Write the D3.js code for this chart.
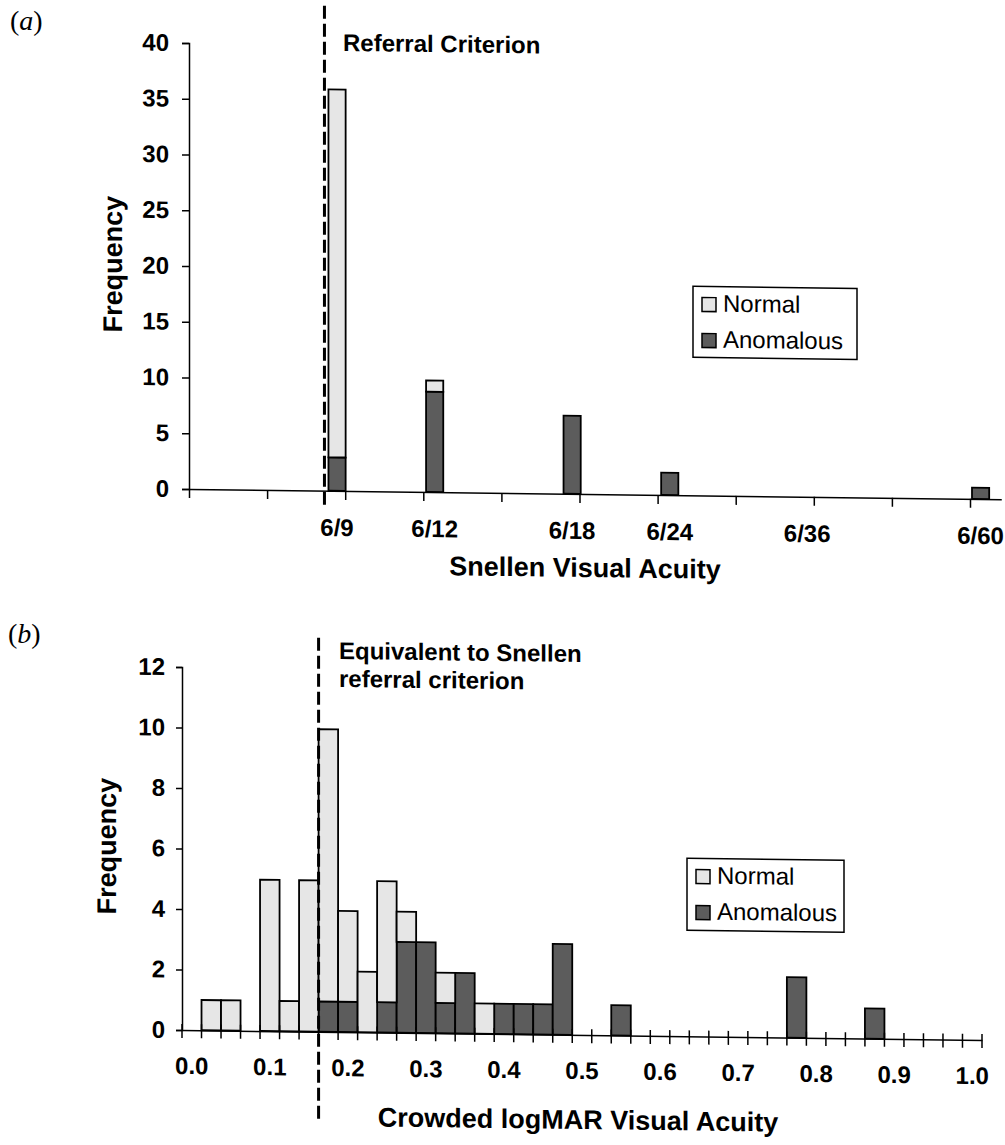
<!DOCTYPE html>
<html>
<head>
<meta charset="utf-8">
<script src="https://cdn.jsdelivr.net/npm/d3@7"></script>
<style>
  body { margin: 0; background: #fff; }
  svg { display: block; font-family: "Liberation Sans", Arial, sans-serif; }
</style>
</head>
<body>
<svg id="chart" width="1005" height="1145"></svg>
<script>
// panel (a): Snellen acuity
const snellenLabels = ['6/9', '6/12', '6/18', '6/24', '6/36', '6/60'];
const snellenLogMAR = [0.176, 0.301, 0.477, 0.602, 0.778, 1.0];
const snellenNormal = [33, 1, 0, 0, 0, 0];
const snellenAnomalous = [3, 9, 7, 2, 0, 1];
const snellenYTicks = [0, 5, 10, 15, 20, 25, 30, 35, 40];

// panel (b): crowded logMAR acuity, bins of 0.025
const logmarBins = [0.000, 0.025, 0.050, 0.075, 0.100, 0.125, 0.150, 0.175, 0.200, 0.225,
  0.250, 0.275, 0.300, 0.325, 0.350, 0.375, 0.400, 0.425, 0.450, 0.475,
  0.500, 0.525, 0.550, 0.575, 0.600, 0.625, 0.650, 0.675, 0.700, 0.725,
  0.750, 0.775, 0.800, 0.825, 0.850, 0.875, 0.900, 0.925, 0.950, 0.975, 1.000];
const logmarNormal = [0, 1, 1, 0, 5, 1, 5, 9, 3, 2,
  4, 1, 0, 1, 0, 1, 0, 0, 0, 0,
  0, 0, 0, 0, 0, 0, 0, 0, 0, 0,
  0, 0, 0, 0, 0, 0, 0, 0, 0, 0, 0];
const logmarAnomalous = [0, 0, 0, 0, 0, 0, 0, 1, 1, 0,
  1, 3, 3, 1, 2, 0, 1, 1, 1, 3,
  0, 0, 1, 0, 0, 0, 0, 0, 0, 0,
  0, 2, 0, 0, 0, 1, 0, 0, 0, 0, 0];
const logmarXLabels = ['0.0', '0.1', '0.2', '0.3', '0.4', '0.5', '0.6', '0.7', '0.8', '0.9', '1.0'];
const logmarYTicks = [0, 2, 4, 6, 8, 10, 12];

const legendKeys = ['Normal', 'Anomalous'];

const colors = { normal: '#e6e6e6', anomalous: '#5c5c5c' };
const skewDeg = 0.72;
const tickFont = 24;

const svg = d3.select('#chart');

function skewed(ox) {
  return svg.append('g')
    .attr('transform', `translate(${ox},0) skewY(${skewDeg}) translate(${-ox},0)`);
}

function drawLegend(g, x, y, w, h) {
  g.append('rect')
    .attr('x', x).attr('y', y).attr('width', w).attr('height', h)
    .attr('fill', '#fff').attr('stroke', '#000').attr('stroke-width', 1.5);
  const items = g.selectAll('g.leg').data(legendKeys).join('g')
    .attr('class', 'leg')
    .attr('transform', (d, i) => `translate(${x + 9},${y + 11 + i * 36})`);
  items.append('rect')
    .attr('width', 14).attr('height', 14)
    .attr('fill', d => d === 'Normal' ? colors.normal : colors.anomalous)
    .attr('stroke', '#000').attr('stroke-width', 1.5);
  items.append('text')
    .attr('x', 21).attr('y', 14)
    .attr('font-size', 24)
    .text(d => d);
}

function styleAxis(sel) {
  sel.select('.domain').attr('stroke', '#000').attr('stroke-width', 1.5);
  sel.selectAll('.tick line').attr('stroke', '#000').attr('stroke-width', 1.5);
  sel.selectAll('.tick text').attr('fill', '#000').attr('font-weight', 'bold')
    .attr('font-size', tickFont).attr('font-family', '"Liberation Sans", Arial, sans-serif');
}

// ---------- panel (a)
(function panelA() {
  const left = 189, top = 43, bottom = 489;
  const g = skewed(left);

  const x = d3.scaleLinear().domain([0, 1.04]).range([left, left + 1.04 * 781]);
  const y = d3.scaleLinear().domain([0, 40]).range([bottom, top]);
  const barW = 0.022;

  const rows = snellenLabels.map((s, i) => ({
    label: s, v: snellenLogMAR[i], normal: snellenNormal[i], anomalous: snellenAnomalous[i]
  }));
  const series = d3.stack().keys(['anomalous', 'normal'])(rows);

  g.append('g').selectAll('g').data(series).join('g')
    .attr('fill', d => colors[d.key])
    .selectAll('rect').data(d => d.filter(p => p[1] > p[0])).join('rect')
      .attr('x', d => x(d.data.v) + 2)
      .attr('width', x(barW) - x(0))
      .attr('y', d => y(d[1]))
      .attr('height', d => y(d[0]) - y(d[1]))
      .attr('stroke', '#000').attr('stroke-width', 1.8);

  g.append('g')
    .attr('transform', `translate(${left},0)`)
    .call(d3.axisLeft(y).tickValues(snellenYTicks).tickSize(7).tickPadding(13))
    .call(styleAxis);

  g.append('g')
    .attr('transform', `translate(0,${bottom})`)
    .call(d3.axisBottom(x).tickValues(d3.range(0, 11).map(i => i / 10)).tickFormat('').tickSize(9).tickSizeOuter(0))
    .call(styleAxis);

  g.append('g').selectAll('text').data(rows).join('text')
    .attr('x', d => x(d.v + barW / 2) + 2)
    .attr('y', bottom + 45)
    .attr('text-anchor', 'middle')
    .attr('font-size', tickFont).attr('font-weight', 'bold')
    .text(d => d.label);

  g.append('text')
    .attr('x', 585).attr('y', 572)
    .attr('text-anchor', 'middle')
    .attr('font-size', 27).attr('font-weight', 'bold')
    .text('Snellen Visual Acuity');

  g.append('text')
    .attr('transform', `translate(122,265) rotate(-90)`)
    .attr('text-anchor', 'middle')
    .attr('font-size', 27).attr('font-weight', 'bold')
    .text('Frequency');

  g.append('line')
    .attr('x1', x(snellenLogMAR[0]) - 2).attr('x2', x(snellenLogMAR[0]) - 2)
    .attr('y1', 4).attr('y2', bottom + 14)
    .attr('stroke', '#000').attr('stroke-width', 3)
    .attr('stroke-dasharray', '13,5');

  g.append('text')
    .attr('x', 343).attr('y', 49)
    .attr('font-size', 24).attr('font-weight', 'bold')
    .text('Referral Criterion');

  drawLegend(g, 693, 280, 164, 71);
})();

// ---------- panel (b)
(function panelB() {
  const left = 182, right = 982, top = 667, bottom = 1030;
  const g = skewed(left);

  const x = d3.scaleBand().domain(logmarBins).range([left, right]).padding(0);
  const y = d3.scaleLinear().domain([0, 12]).range([bottom, top]);

  const rows = logmarBins.map((b, i) => ({
    bin: b, normal: logmarNormal[i], anomalous: logmarAnomalous[i]
  }));
  const series = d3.stack().keys(['anomalous', 'normal'])(rows);

  g.append('g').selectAll('g').data(series).join('g')
    .attr('fill', d => colors[d.key])
    .selectAll('rect').data(d => d.filter(p => p[1] > p[0])).join('rect')
      .attr('x', d => x(d.data.bin))
      .attr('width', x.bandwidth())
      .attr('y', d => y(d[1]))
      .attr('height', d => y(d[0]) - y(d[1]))
      .attr('stroke', '#000').attr('stroke-width', 1.8);

  g.append('g')
    .attr('transform', `translate(${left},0)`)
    .call(d3.axisLeft(y).tickValues(logmarYTicks).tickSize(6).tickPadding(11))
    .call(styleAxis);

  // category labels every 0.1
  const labelled = logmarBins.filter((b, i) => i % 4 === 0);
  g.append('g')
    .attr('transform', `translate(0,${bottom})`)
    .call(d3.axisBottom(x).tickValues(labelled).tickSize(0).tickPadding(27)
      .tickFormat((d, i) => logmarXLabels[i]))
    .call(styleAxis);

  // tick marks at bin boundaries, crossing the axis
  const edges = logmarBins.map(b => x(b)).concat([right]);
  g.append('g').selectAll('line').data(edges).join('line')
    .attr('x1', d => d).attr('x2', d => d)
    .attr('y1', bottom - 6).attr('y2', bottom + 8)
    .attr('stroke', '#000').attr('stroke-width', 1.5);

  g.append('text')
    .attr('x', 578).attr('y', 1124)
    .attr('text-anchor', 'middle')
    .attr('font-size', 27).attr('font-weight', 'bold')
    .text('Crowded logMAR Visual Acuity');

  g.append('text')
    .attr('transform', `translate(116,847) rotate(-90)`)
    .attr('text-anchor', 'middle')
    .attr('font-size', 27).attr('font-weight', 'bold')
    .text('Frequency');

  const cx = x(0.175);
  g.append('line')
    .attr('x1', cx).attr('x2', cx)
    .attr('y1', 636).attr('y2', 1120)
    .attr('stroke', '#000').attr('stroke-width', 3)
    .attr('stroke-dasharray', '13,5');

  g.append('text')
    .attr('font-size', 24).attr('font-weight', 'bold')
    .selectAll('tspan').data(['Equivalent to Snellen', 'referral criterion']).join('tspan')
      .attr('x', 339).attr('y', (d, i) => 657 + i * 28)
      .text(d => d);

  drawLegend(g, 687, 852, 157, 72);
})();

// panel letters
svg.append('text').attr('x', 10).attr('y', 30)
  .attr('font-family', '"Liberation Serif", "Times New Roman", serif')
  .attr('font-size', 28).html('(<tspan font-style="italic">a</tspan>)');
svg.append('text').attr('x', 8).attr('y', 643)
  .attr('font-family', '"Liberation Serif", "Times New Roman", serif')
  .attr('font-size', 28).html('(<tspan font-style="italic">b</tspan>)');
</script>
</body>
</html>
